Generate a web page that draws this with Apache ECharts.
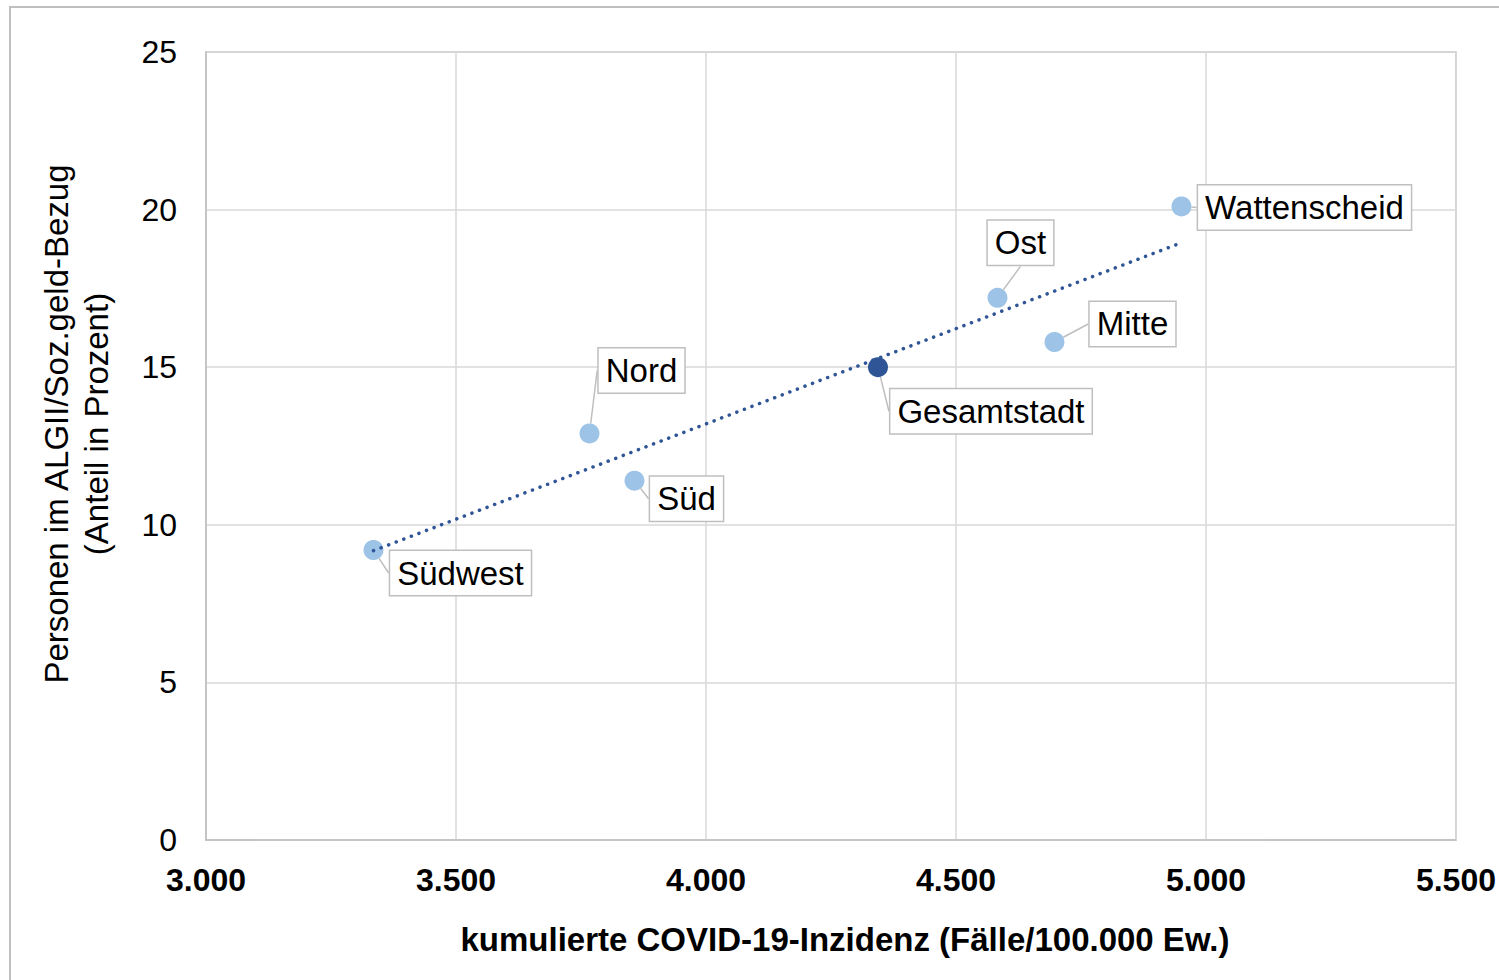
<!DOCTYPE html>
<html>
<head>
<meta charset="utf-8">
<script src="https://cdn.jsdelivr.net/npm/echarts@6/dist/echarts.min.js"></script>
<style>
html,body{margin:0;padding:0;background:#fff;overflow:hidden;width:100%;height:100%;}
#frame{position:absolute;left:9px;top:6px;right:-20px;bottom:-20px;border:2px solid #bfbfbf;box-sizing:border-box;}
#chart{position:absolute;left:0;top:0;width:100vw;height:100vh;}
</style>
</head>
<body>
<div id="frame"></div>
<div id="chart"></div>
<script>
// Districts (Stadtbezirke)
const districts = ['Südwest', 'Nord', 'Süd', 'Ost', 'Mitte', 'Wattenscheid'];
const districtIncidence = [3335, 3767, 3857, 4583, 4697, 4951];
const districtShare = [9.2, 12.9, 11.4, 17.2, 15.8, 20.1];
// City total
const cityName = ['Gesamtstadt'];
const cityIncidence = [4344];
const cityShare = [15.0];
// Linear trend line endpoints
const trendIncidence = [3335, 4951];
const trendShare = [9.18, 18.95];
// Axis ticks
const xTicks = [3000, 3500, 4000, 4500, 5000, 5500];
const yTicks = [0, 5, 10, 15, 20, 25];

// label placement (style only)
const labelShift = {
  'Wattenscheid': [123, 1],
  'Ost': [23, -55],
  'Mitte': [78, -18],
  'Gesamtstadt': [113, 44],
  'Nord': [52, -63],
  'Süd': [52, 18],
  'Südwest': [87, 23]
};

const FONT = '"Liberation Sans", Arial, sans-serif';
const labelStyle = {
  show: true,
  position: 'inside',
  formatter: p => p.data.name,
  color: '#000',
  fontFamily: FONT,
  fontSize: 33,
  lineHeight: 32,
  backgroundColor: '#fff',
  borderColor: '#bfbfbf',
  borderWidth: 1.5,
  padding: [6, 7, 6, 7]
};
const labelLine = { show: true, lineStyle: { color: '#bfbfbf', width: 1.5 } };
function layoutFn(params) {
  const s = labelShift[params.text] || [0, 0];
  return { dx: s[0], dy: s[1] };
}

const chart = echarts.init(document.getElementById('chart'), null, { renderer: 'svg' });
chart.setOption({
  animation: false,
  backgroundColor: 'transparent',
  grid: { left: 206, right: 41, top: 52, bottom: 140, show: true, borderColor: '#bfbfbf', borderWidth: 1.5 },
  xAxis: {
    type: 'value', min: xTicks[0], max: xTicks[xTicks.length - 1], interval: 500,
    name: 'kumulierte COVID-19-Inzidenz (Fälle/100.000 Ew.)',
    nameLocation: 'middle', nameGap: 83,
    nameTextStyle: { fontFamily: FONT, fontSize: 33, fontWeight: 'bold', color: '#000', padding: [0, 0, 0, 28] },
    axisLine: { show: true, lineStyle: { color: '#bfbfbf', width: 1.5 } },
    axisTick: { show: false },
    axisLabel: { fontFamily: FONT, fontSize: 32, fontWeight: 'bold', color: '#000', margin: 24,
      formatter: v => String(v).replace(/(\d)(\d{3})$/, '$1.$2') },
    splitLine: { show: true, lineStyle: { color: '#d9d9d9', width: 1.5 } }
  },
  yAxis: {
    type: 'value', min: yTicks[0], max: yTicks[yTicks.length - 1], interval: 5,
    name: 'Personen im ALGII/Soz.geld-Bezug\n(Anteil in Prozent)',
    nameLocation: 'middle', nameGap: 90,
    nameTextStyle: { fontFamily: FONT, fontSize: 33, color: '#000', lineHeight: 40, padding: [0, 0, 0, 44] },
    axisLine: { show: true, lineStyle: { color: '#bfbfbf', width: 1.5 } },
    axisTick: { show: false },
    axisLabel: { fontFamily: FONT, fontSize: 32, color: '#000', margin: 29 },
    splitLine: { show: true, lineStyle: { color: '#d9d9d9', width: 1.5 } }
  },
  series: [
    {
      type: 'scatter', name: 'Stadtbezirke', z: 2,
      symbolSize: 20,
      itemStyle: { color: '#9dc3e6', opacity: 1 },
      data: districts.map((n, i) => ({ name: n, value: [districtIncidence[i], districtShare[i]] })),
      label: labelStyle, labelLine: labelLine, labelLayout: layoutFn
    },
    {
      type: 'line', name: 'Trend', z: 3,
      data: trendIncidence.map((x, i) => [x, trendShare[i]]),
      symbol: 'none', silent: true,
      lineStyle: { color: '#2f5597', width: 3.5, type: [0.1, 8], cap: 'round' }
    },
    {
      type: 'scatter', name: 'Gesamtstadt', z: 4,
      symbolSize: 20,
      itemStyle: { color: '#2f5597', opacity: 1 },
      data: cityName.map((n, i) => ({ name: n, value: [cityIncidence[i], cityShare[i]] })),
      label: labelStyle, labelLine: labelLine, labelLayout: layoutFn
    }
  ]
});
</script>
</body>
</html>
